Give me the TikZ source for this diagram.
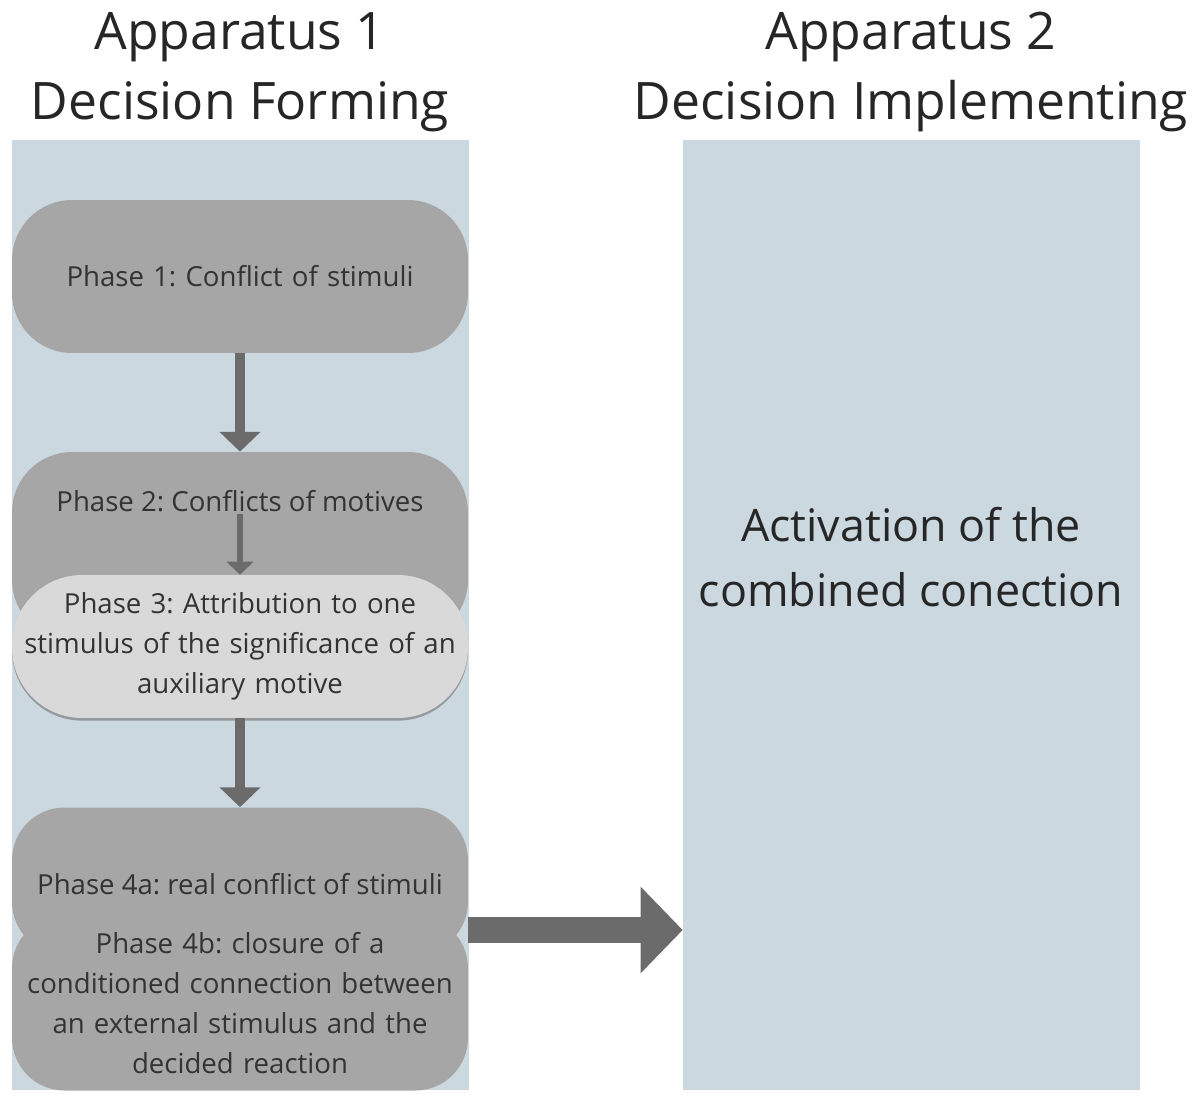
\documentclass[tikz,border=0pt]{standalone}
\usepackage{fontspec}
\setmainfont{Open Sans}
\usepackage{xcolor}
\usetikzlibrary{positioning,arrows.meta,shadows}
\frenchspacing

\definecolor{panelblue}{HTML}{CBD8E0}
\definecolor{boxgray}{HTML}{A6A6A6}
\definecolor{lightbox}{HTML}{D9D9D9}
\definecolor{arrowgray}{HTML}{6B6B6B}
\definecolor{textgray}{HTML}{333333}

\begin{document}
\begin{tikzpicture}[x=0.02cm, y=-0.02cm,
    panel/.style={rectangle, fill=panelblue, minimum width=9.14cm, minimum height=19cm, inner sep=0pt},
    title/.style={align=center, inner sep=0pt, text=black!85, font=\fontsize{29.4}{39.7}\selectfont},
    phase/.style={rectangle, rounded corners=1.2cm, fill=boxgray, minimum width=9.12cm, text width=9.1cm,
        align=center, inner sep=0pt, text=textgray, font=\fontsize{15.7}{22.7}\selectfont},
    flow/.style={arrowgray, line width=5.7pt, -{Triangle[width=22.7pt,length=11.3pt]}}]
    \useasboundingbox (0,0) rectangle (1200,1106);

    % Apparatus 1
    \node [panel] (app1) at (240.5,615) {};
    \node [title] (title1) at (240,72) {Apparatus 1\\Decision Forming};

    % Apparatus 2
    \node [panel] (app2) at (911.5,615) {};
    \node [title] (title2) at (911,72) {Apparatus 2\\Decision Implementing};
    \node [align=center, text=black!85, font=\fontsize{25.5}{37}\selectfont] (act) at (911,557)
        {Activation of the\\combined conection};

    % phases
    \node [phase, minimum height=3.06cm] (p1) at (240,276.5) {Phase 1: Conflict of stimuli};
    \node [phase, minimum height=3.76cm] (p2) at (240,546) {};
    \node [text=textgray, font=\fontsize{15.7}{22.7}\selectfont, inner sep=1pt] (p2t) at (240,501) {Phase 2: Conflicts of motives};
    \node [phase, fill=lightbox, rounded corners=1.4cm, minimum height=2.86cm,
        drop shadow={shadow xshift=0pt, shadow yshift=-1.5pt, fill=gray, opacity=0.7}] (p3) at (240,646.5)
        {Phase 3: Attribution to one\\stimulus of the significance of an\\auxiliary motive};
    \node [phase, rounded corners=1.05cm, minimum height=2.94cm] (p4a) at (240,881) {};
    \node [phase, rounded corners=1.05cm, minimum height=3.5cm] (p4b) at (240,1003)
        {Phase 4b: closure of a\\conditioned connection between\\an external stimulus and the\\decided reaction};
    \node [text=textgray, font=\fontsize{15.7}{22.7}\selectfont] (p4at) at (240,884) {Phase 4a: real conflict of stimuli};
    \coordinate (join) at (240,930);

    % arrows
    \draw [flow] (p1) -- (p2);
    \draw [flow, line width=3.4pt, -{Triangle[width=15pt,length=7.4pt]}] (p2t) -- (p3);
    \draw [flow] (p3) -- (p4a);
    \draw [flow, line width=15.3pt, -{Triangle[width=48pt,length=24pt]}] (p4a.east |- join) -- (app2.west |- join);
\end{tikzpicture}
\end{document}
